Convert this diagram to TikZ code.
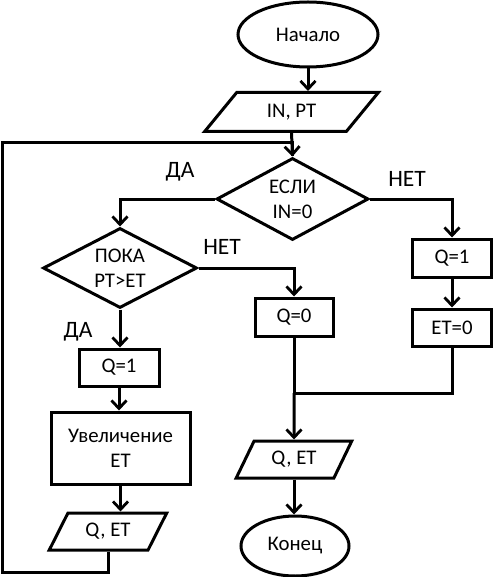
\documentclass[tikz,border=0pt]{standalone}
\usepackage{fontspec}
\setmainfont{Carlito}
\usetikzlibrary{shapes.geometric,arrows.meta}
\begin{document}
\begin{tikzpicture}[x=1pt,y=-1pt,
  every node/.style={font=\fontsize{20.8}{25}\selectfont, align=center, inner sep=0pt},
  base/.style={draw, line width=3pt},
  term/.style={base, ellipse},
  proc/.style={base, rectangle},
  io/.style={base, trapezium, trapezium stretches=true},
  dec/.style={base, diamond, aspect=1.85},
  lbl/.style={font=\fontsize{23.5}{26}\selectfont},
  conn/.style={line width=3pt},
  arr/.style={conn, -{Straight Barb[length=8pt,width=15pt,line width=2.8pt]}}
]
\useasboundingbox (0,0) rectangle (493,577);
\node[term, minimum width=140, minimum height=65] (start) at (308,34.5) {Начало};
\node[io, minimum width=175, minimum height=39, trapezium left angle=48, trapezium right angle=132] (inp) at (291.5,112) {IN, PT};
\node[dec, minimum width=152, minimum height=82] (cond) at (292.5,199) {ЕСЛИ\\IN=0};
\node[dec, minimum width=154, minimum height=80] (pok) at (120,268) {ПОКА\\PT>ET};
\node[proc, minimum width=78, minimum height=38] (q0) at (294,317) {Q=0};
\node[proc, minimum width=79, minimum height=38] (rq1) at (452,258) {Q=1};
\node[proc, minimum width=79, minimum height=37] (et0) at (452,327.5) {ET=0};
\node[proc, minimum width=80, minimum height=37] (lq1) at (119,367.5) {Q=1};
\node[proc, minimum width=139, minimum height=72] (inc) at (120.5,448) {Увеличение\\ET};
\node[io, minimum width=118, minimum height=37, trapezium left angle=57, trapezium right angle=123] (out1) at (108,531.5) {Q, ET};
\node[io, minimum width=116, minimum height=37, trapezium left angle=58, trapezium right angle=122] (out2) at (294,459.5) {Q, ET};
\node[term, minimum width=108, minimum height=60] (stop) at (295,546) {Конец};

\node[lbl] (l1) at (180,172) {ДА};
\node[lbl] (l2) at (407,179) {НЕТ};
\node[lbl] (l3) at (222,247) {НЕТ};
\node[lbl] (l4) at (78,332) {ДА};

\coordinate (fb1) at (2.5,572);
\coordinate (fb2) at (2.5,143);
\coordinate (jn) at (294,393);

\draw[arr] (start.south) -- (start.south |- inp.north);
\draw[arr] (inp.south) -- (cond.north);
\draw[conn] (out1.south) |- (fb1) -- (fb2) -| (cond.north);
\draw[arr] (cond.west) -| (pok.north);
\draw[arr] (cond.east) -| (rq1.north);
\draw[arr] (rq1.south) -- (et0.north);
\draw[arr] (pok.east) -| (q0.north);
\draw[arr] (pok.south) -- (pok.south |- lq1.north);
\draw[arr] (lq1.south) -- (lq1.south |- inc.north);
\draw[arr] (inc.south) -- (inc.south |- out1.north);
\draw[conn] (q0.south) -- (jn);
\draw[conn] (et0.south) |- (jn);
\draw[arr] (jn) -- (out2.north);
\draw[arr] (out2.south) -- (out2.south |- stop.north);
\end{tikzpicture}
\end{document}
